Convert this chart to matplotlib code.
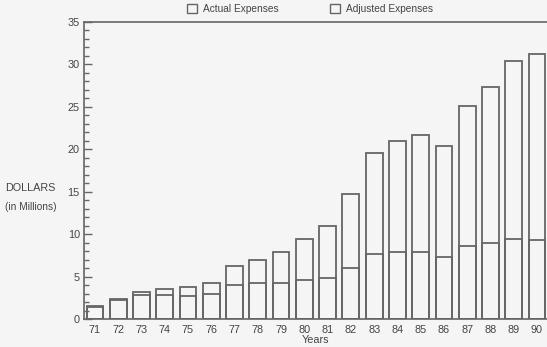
import matplotlib
matplotlib.use("Agg")
import matplotlib.pyplot as plt
from matplotlib.patches import Patch
from matplotlib.ticker import MultipleLocator

plt.rcParams["font.family"] = ["Liberation Sans", "DejaVu Sans"]

# --- data (millions of dollars) ---
years = ["71", "72", "73", "74", "75", "76", "77", "78", "79", "80",
         "81", "82", "83", "84", "85", "86", "87", "88", "89", "90"]
actual = [1.5, 2.3, 3.2, 3.5, 3.8, 4.3, 6.2, 7.0, 7.85, 9.45,
          10.95, 14.7, 19.6, 20.95, 21.7, 20.4, 25.05, 27.3, 30.35, 31.25]
adjusted = [1.4, 2.2, 2.8, 2.85, 2.75, 3.0, 4.05, 4.3, 4.3, 4.55,
            4.85, 6.0, 7.7, 7.95, 7.9, 7.25, 8.65, 8.95, 9.4, 9.25]

BG = "#f5f5f5"
EDGE = "#666666"
TXT = "#444444"

fig = plt.figure(figsize=(5.47, 3.47), dpi=100, facecolor=BG)
ax = fig.add_axes([0.1536, 0.0807, 0.8464, 0.856], facecolor=BG)

x = list(range(len(years)))
ax.bar(x, actual, width=0.72, facecolor="none", edgecolor=EDGE, linewidth=1.3)
ax.bar(x, adjusted, width=0.72, facecolor="none", edgecolor=EDGE, linewidth=1.3)

ax.set_xlim(-0.47, 19.43)
ax.set_ylim(0, 35)

# y axis: majors every 5, minors every 1, ticks pointing in
ax.yaxis.set_major_locator(MultipleLocator(5))
ax.yaxis.set_minor_locator(MultipleLocator(1))
ax.tick_params(axis="y", which="major", direction="in", length=6, width=1,
               color=EDGE, labelsize=7.8, labelcolor=TXT, pad=3)
ax.tick_params(axis="y", which="minor", direction="in", length=3.5, width=1,
               color=EDGE)
ax.set_xticks(x)
ax.set_xticklabels(years)
ax.tick_params(axis="x", length=0, labelsize=7.8, labelcolor=TXT, pad=4)

for side in ("left", "top", "bottom"):
    ax.spines[side].set_color(EDGE)
    ax.spines[side].set_linewidth(1.2)
ax.spines["right"].set_visible(False)

ax.set_xlabel("Years", fontsize=7.8, color=TXT, labelpad=0)

fig.text(0.009, 0.458, "DOLLARS", fontsize=7.8, color=TXT, ha="left", va="center")
fig.text(0.009, 0.403, "(in Millions)", fontsize=7.3, color=TXT, ha="left", va="center")

handles = [Patch(facecolor="none", edgecolor=EDGE, linewidth=1),
           Patch(facecolor="none", edgecolor=EDGE, linewidth=1)]
fig.legend(handles, ["Actual Expenses", "Adjusted Expenses"],
           loc="upper center", bbox_to_anchor=(0.567, 1.015), ncol=2,
           frameon=False, fontsize=7.3, labelcolor=TXT, columnspacing=5,
           handlelength=1.0, handleheight=1.0, handletextpad=0.6)

fig.savefig("out.png", dpi=100, facecolor=BG)
